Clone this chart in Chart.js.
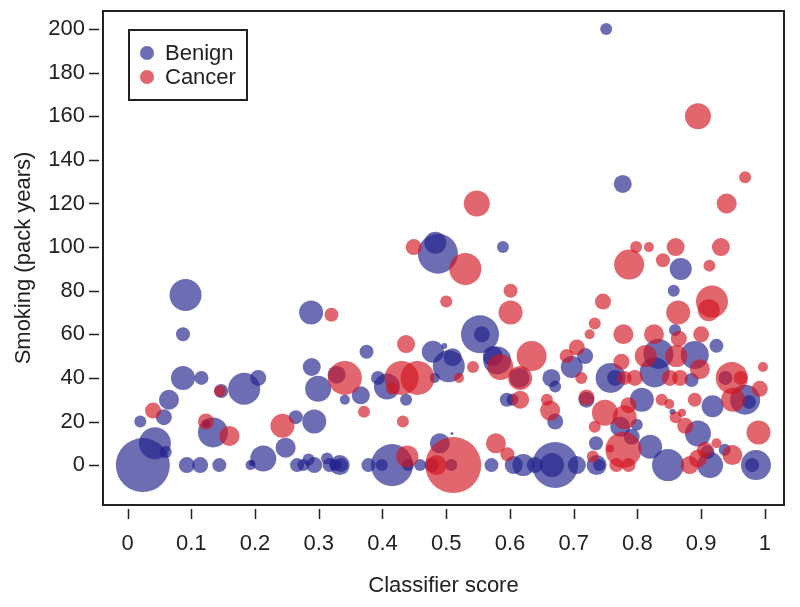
<!DOCTYPE html>
<html><head><meta charset="utf-8">
<script src="https://cdn.jsdelivr.net/npm/chart.js@4"></script>
<style>
body{margin:0;background:#fff;}
#wrap{position:relative;width:800px;height:607px;}
#legend{position:absolute;left:128px;top:29px;width:116px;height:68px;border:2px solid #222;font-family:"Liberation Sans",Arial,sans-serif;font-size:22px;color:#222;}
#legend .it{position:absolute;left:0;height:24px;line-height:24px;}
#legend .dot{position:absolute;left:10px;top:5px;width:14px;height:14px;border-radius:50%;}
#legend .tx{position:absolute;left:35px;top:0;white-space:nowrap;}
</style></head>
<body><div id="wrap"><canvas id="c" width="800" height="607"></canvas>
<div id="legend">
<div class="it" style="top:10px"><span class="dot" style="background:rgba(30,30,140,0.65)"></span><span class="tx">Benign</span></div>
<div class="it" style="top:34px"><span class="dot" style="background:rgba(210,20,30,0.65)"></span><span class="tx">Cancer</span></div>
</div></div>
<script>
const seriesNames=["Benign","Cancer"];
const xTickValues=[0,0.1,0.2,0.3,0.4,0.5,0.6,0.7,0.8,0.9,1];
const yTickValues=[0,20,40,60,80,100,120,140,160,180,200];

const benignScore=[0.024,0.043,0.06,0.02,0.057,0.065,0.087,0.116,0.087,0.091,0.093,0.114,0.144,0.134,0.123,0.147,0.183,0.205,0.193,0.213,0.248,0.264,0.293,0.289,0.299,0.288,0.266,0.276,0.284,0.293,0.313,0.317,0.326,0.333,0.335,0.328,0.341,0.366,0.375,0.393,0.407,0.378,0.399,0.415,0.44,0.459,0.477,0.437,0.49,0.509,0.508,0.482,0.479,0.497,0.504,0.51,0.487,0.483,0.589,0.553,0.556,0.573,0.58,0.615,0.595,0.604,0.571,0.606,0.621,0.639,0.671,0.666,0.705,0.736,0.74,0.735,0.671,0.665,0.671,0.697,0.718,0.72,0.758,0.765,0.773,0.799,0.791,0.82,0.848,0.807,0.855,0.833,0.827,0.89,0.885,0.924,0.859,0.857,0.868,0.777,0.751,0.918,0.895,0.914,0.91,0.937,0.938,0.969,0.975,0.986,0.98,0.195];
const benignPack=[0,10,6,20,22,30,40,40,60,78,0,0,0,15,19,34,35,40,0,3,8,22,20,45,35,70,0,0,2.6,0,3,0,0,0,0,41.5,30,32,52,40,36,0,0,0,0,0,0,30,10,14.5,0,40,52,54.6,45.4,49.5,97,102,100,60,60,50,48,40,30,30,0,0,0,0,0,0,0,0,0,10,20,40,36,45,50,30,40,40,17.6,18.5,13,8.4,0,30,24.5,51,42.5,50.5,39,54.7,62,80,90,129,200,27,14.5,0,6,7,40,30,29,0,0,1];
const benignSize=[27,16,6,6,8,10,12,7,7,16,8,8,7,15,4,7,16,8,5,13,10,7,12,9,13,12,7,6,6,8,6,7,6,10,7,9,5,9,7,7,13,7,6,21,6,6,7,6,10,1.5,6,5,11,3,16,9,20,11,6,19,8,10,14,10,7,6,7,9,11,8,23,12,9,10,6,7,8,9,6,11,8,8,15,8,10,6,8,12,16,12,3,15,15,14,7,7,6,6,11,9,6,11,13,13,7,6,7,15,7,15,7,3];

const cancerScore=[0.04,0.123,0.145,0.16,0.243,0.32,0.341,0.371,0.43,0.455,0.415,0.437,0.432,0.439,0.511,0.485,0.449,0.548,0.53,0.5,0.542,0.52,0.585,0.634,0.616,0.616,0.578,0.596,0.601,0.601,0.658,0.663,0.689,0.705,0.712,0.72,0.725,0.733,0.746,0.787,0.798,0.818,0.84,0.86,0.913,0.931,0.94,0.969,0.895,0.917,0.912,0.864,0.778,0.826,0.865,0.9,0.775,0.813,0.861,0.898,0.796,0.78,0.851,0.867,0.948,0.962,0.997,0.992,0.95,0.89,0.838,0.786,0.749,0.733,0.875,0.99,0.924,0.949,0.906,0.895,0.882,0.778,0.757,0.767,0.786,0.73,0.87,0.85,0.78,0.86];
const cancerPack=[25,20,34,13.4,18,69,40,24.5,40,40,35,55.5,20,4,0,0,100,120,90,75,45,40,45,50,40,30,10,5,80,70,30,25,50,54,40,31,60,65,75,92,100,100,94,100,91.5,100,120,132,160,75,71,70,60,60,58,60,47.4,50,50,44,40,40,40,40,40,40,45,35,30,30,30,27.5,24,17.6,18,15,10,4.6,7,3,0,7,7.6,0,0,4,24,28,22,22];
const cancerSize=[8,8,6,10,12,7,17,6,17,17,6,9,6,11,28,10,8,13,16,6,6,5,13,15,12,9,10,7,7,12,6,10,7,8,6,8,5,6,8,15,6,5,7,9,6,9,10,6,13,16,11,12,10,10,8,8,8,11,11,10,8,7,8,8,16,7,5,8,12,7,6,8,13,6,8,12,5,10,8,9,9,18,4,7,7,6,4,5,12,6];

function pts(xs,ys,rs){return xs.map((x,i)=>({x:x,y:ys[i],r:rs[i]}));}

const FONT={family:'"Liberation Sans", Arial, sans-serif',size:22};
const boxPlugin={id:'box',afterDraw(chart){
  const {ctx,chartArea:a,scales}=chart;
  ctx.save();ctx.strokeStyle='#222';ctx.lineWidth=2;
  ctx.strokeRect(a.left,a.top,a.right-a.left,a.bottom-a.top);
  ctx.lineWidth=1.5;ctx.beginPath();
  xTickValues.forEach(v=>{const p=Math.round(scales.x.getPixelForValue(v))+0.5;ctx.moveTo(p,a.bottom+4);ctx.lineTo(p,a.bottom+14);});
  yTickValues.forEach(v=>{const p=Math.round(scales.y.getPixelForValue(v))+0.5;ctx.moveTo(a.left-4,p);ctx.lineTo(a.left-14,p);});
  ctx.stroke();ctx.restore();
}};

new Chart(document.getElementById('c'),{
  type:'bubble',
  data:{datasets:[
    {label:seriesNames[1],data:pts(cancerScore,cancerPack,cancerSize),backgroundColor:'rgba(210,20,30,0.65)',borderWidth:0},
    {label:seriesNames[0],data:pts(benignScore,benignPack,benignSize),backgroundColor:'rgba(30,30,140,0.65)',borderWidth:0}
  ]},
  options:{
    responsive:false,animation:false,events:[],devicePixelRatio:1,
    layout:{autoPadding:false,padding:{left:0,right:16,top:11,bottom:0}},
    plugins:{legend:{display:false},tooltip:{enabled:false}},
    scales:{
      x:{type:'linear',min:-0.0385,max:1.03,
        afterBuildTicks:s=>{s.ticks=xTickValues.map(v=>({value:v}));},
        afterFit:s=>{s.height=102;s.paddingLeft=0;s.paddingRight=0;s.paddingTop=0;s.paddingBottom=0;},
        grid:{display:false},border:{display:false},
        ticks:{font:FONT,color:'#222',padding:18,maxRotation:0,autoSkip:false,callback:v=>String(v)},
        title:{display:true,text:'Classifier score',font:FONT,color:'#222',padding:{top:0,bottom:8}}},
      y:{type:'linear',min:-18.3,max:208.3,
        afterBuildTicks:s=>{s.ticks=yTickValues.map(v=>({value:v}));},
        afterFit:s=>{s.width=103;s.paddingLeft=0;s.paddingRight=0;s.paddingTop=0;s.paddingBottom=0;},
        grid:{display:false},border:{display:false},
        ticks:{font:FONT,color:'#222',padding:10,autoSkip:false,callback:v=>String(v)},
        title:{display:true,text:'Smoking (pack years)',font:FONT,color:'#222',padding:{top:11,bottom:0}}}
    }
  },
  plugins:[boxPlugin]
});
</script></body></html>
